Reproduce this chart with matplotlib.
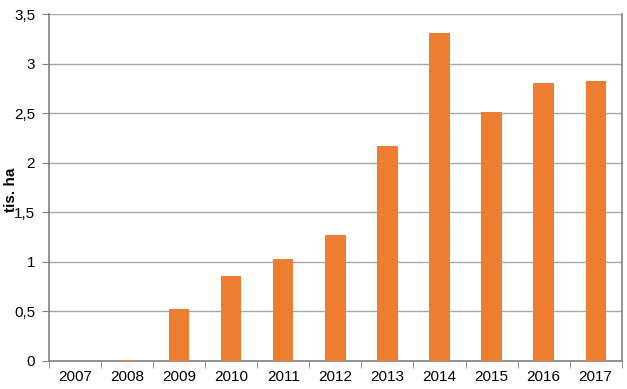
import matplotlib
matplotlib.use("Agg")
import matplotlib.pyplot as plt
import numpy as np

years = ["2007", "2008", "2009", "2010", "2011", "2012", "2013", "2014", "2015", "2016", "2017"]
values = [0.0, 0.01, 0.525, 0.86, 1.03, 1.27, 2.17, 3.31, 2.51, 2.80, 2.82]
yticks = [0, 0.5, 1, 1.5, 2, 2.5, 3, 3.5]
ytick_labels = ["0", "0,5", "1", "1,5", "2", "2,5", "3", "3,5"]

plt.rcParams['font.family'] = ['Liberation Sans', 'DejaVu Sans']

W, H = 627, 389
fig = plt.figure(figsize=(W / 100, H / 100), dpi=100)
ax = fig.add_axes([49 / W, 1 - 360.7 / H, (621.7 - 49) / W, (360.7 - 14) / H])

x = np.arange(len(years))
ax.bar(x, values, width=0.39, color="#ED7D31", zorder=3)

ax.set_xlim(-0.5, len(years) - 0.5)
ax.set_ylim(0, 3.5)
ax.set_yticks(yticks)
ax.set_yticklabels(ytick_labels, fontsize=11)
ax.set_xticks(x)
ax.set_xticklabels(years, fontsize=11)
ax.tick_params(axis='x', length=0, pad=7)
ax.set_xticks(np.arange(-0.5, len(years), 1), minor=True)
ax.tick_params(axis='x', which='minor', length=5, color="#808080", direction='out')
ax.tick_params(axis='y', length=5, color="#808080", direction='out', pad=5)

ax.grid(axis='y', color="#A6A6A6", linewidth=1, zorder=0)
for side in ['left', 'right', 'bottom']:
    ax.spines[side].set_color("#808080")
    ax.spines[side].set_linewidth(1.2)
ax.spines['top'].set_visible(False)

fig.text(11 / W, 1 - 190 / H, "tis. ha", fontsize=11, fontweight='bold',
         rotation=90, ha='center', va='center')

fig.savefig("out.png", dpi=100)
